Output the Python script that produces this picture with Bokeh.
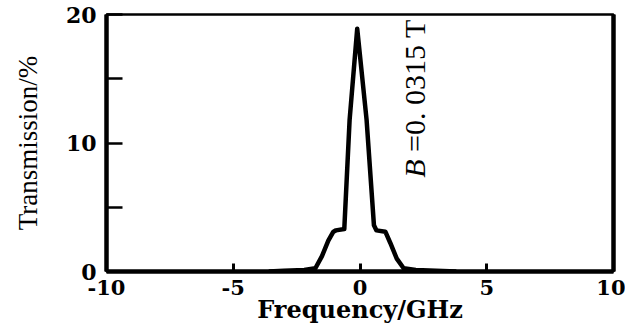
import math
from bokeh.plotting import figure
from bokeh.models import FixedTicker, Label, LinearAxis, Range1d
from bokeh.embed import file_html
from bokeh.resources import INLINE

# Data
freq = [-3.6, -3.0, -2.2, -1.76, -1.5, -1.25, -1.05, -0.95, -0.62, -0.41, -0.11,
        0.26, 0.55, 0.65, 1.0, 1.2, 1.45, 1.72, 2.2, 3.0, 3.8]
trans = [0.0, 0.05, 0.12, 0.25, 1.2, 2.4, 3.1, 3.2, 3.3, 11.8, 18.9,
         11.8, 3.6, 3.2, 3.1, 2.2, 1.0, 0.25, 0.12, 0.05, 0.0]
x_ticks = [-10, -5, 0, 5, 10]
x_labels = {-10: "-10", -5: "-5", 0: "0", 5: "5", 10: "10"}
y_ticks = [0, 5, 10, 15, 20]
y_labels = {0: "0", 5: "", 10: "10", 15: "", 20: "20"}
field_label = "=0. 0315 T"

p = figure(width=625, height=326, output_backend="svg", toolbar_location=None,
           x_range=Range1d(-10, 10), y_range=Range1d(0, 20),
           min_border_left=106, min_border_right=12, min_border_top=14, min_border_bottom=55)
p.grid.visible = False
p.outline_line_color = "black"
p.outline_line_width = 2.5
p.background_fill_color = "white"
p.border_fill_color = "white"

p.line(freq, trans, line_color="black", line_width=4.5, line_join="round")

xa = p.xaxis[0]
xa.ticker = FixedTicker(ticks=x_ticks)
xa.major_label_overrides = x_labels
xa.axis_line_color = "black"
xa.axis_line_width = 4.5
xa.major_tick_in = 8
xa.major_tick_out = 0
xa.major_tick_line_color = "black"
xa.major_tick_line_width = 3
xa.minor_tick_line_color = None
xa.major_label_text_color = "black"
xa.major_label_text_font = "DejaVu Serif"
xa.major_label_text_font_style = "bold"
xa.major_label_text_font_size = "21px"
xa.major_label_standoff = 8
xa.axis_label = "Frequency/GHz"
xa.axis_label_text_color = "black"
xa.axis_label_text_font = "DejaVu Serif"
xa.axis_label_text_font_style = "bold"
xa.axis_label_text_font_size = "24px"
xa.axis_label_standoff = -3

ya = p.yaxis[0]
ya.ticker = FixedTicker(ticks=y_ticks)
ya.major_label_overrides = y_labels
ya.axis_line_color = "black"
ya.axis_line_width = 4.5
ya.major_tick_in = 16
ya.major_tick_out = 0
ya.major_tick_line_color = "black"
ya.major_tick_line_width = 2.5
ya.minor_tick_line_color = None
ya.major_label_text_color = "black"
ya.major_label_text_font = "DejaVu Serif"
ya.major_label_text_font_style = "bold"
ya.major_label_text_font_size = "22px"
ya.major_label_standoff = 10
ya.axis_label = "Transmission/%"
ya.axis_label_text_color = "black"
ya.axis_label_text_font = "Liberation Serif"
ya.axis_label_text_font_style = "normal"
ya.axis_label_text_font_size = "27px"
ya.axis_label_standoff = 20

ra = LinearAxis(ticker=FixedTicker(ticks=[]), axis_line_width=4.5, axis_line_color="black",
                major_tick_line_color=None, minor_tick_line_color=None,
                major_label_text_font_size="0px")
p.add_layout(ra, "right")

p.add_layout(Label(x=2.15, y=7.3, text="B", angle=math.pi / 2, text_color="black",
                   text_font="Liberation Serif", text_font_style="italic",
                   text_font_size="30px", text_align="left", text_baseline="middle"))
p.add_layout(Label(x=2.15, y=9.3, text=field_label, angle=math.pi / 2, text_color="black",
                   text_font="Liberation Serif", text_font_size="30px",
                   text_align="left", text_baseline="middle"))

open("out.html", "w").write(file_html(p, INLINE))
